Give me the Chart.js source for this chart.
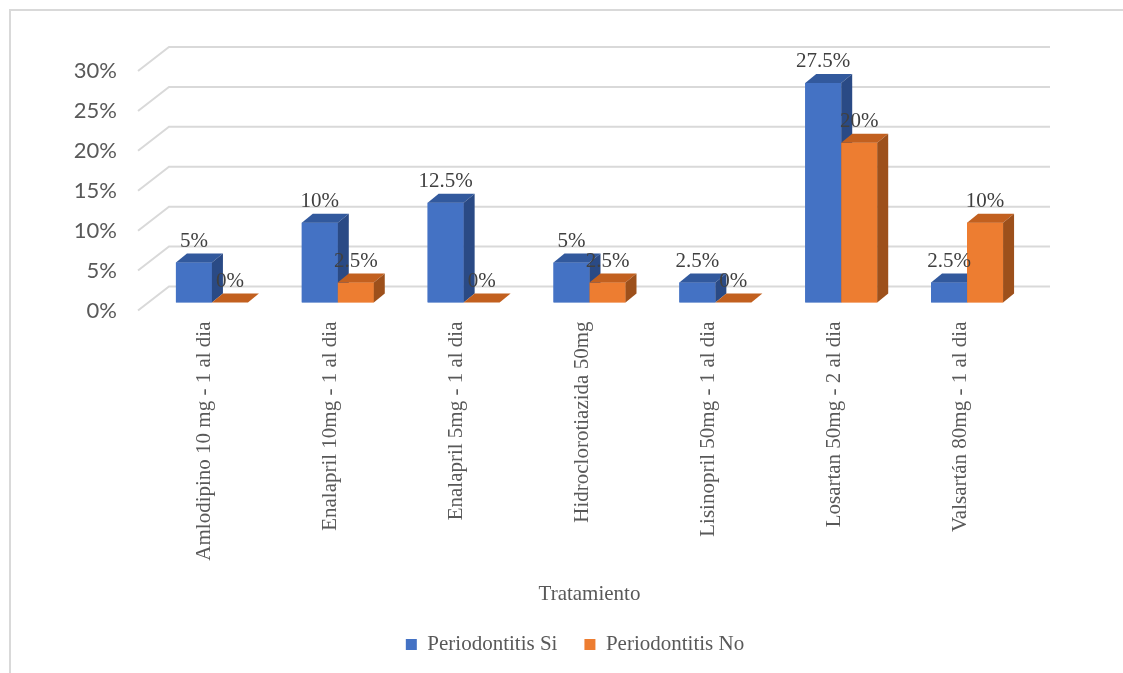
<!DOCTYPE html>
<html lang="es">
<head>
<meta charset="utf-8">
<title>Periodontitis por tratamiento</title>
<script src="https://cdn.jsdelivr.net/npm/chart.js@4.4.1/dist/chart.umd.min.js"></script>
<style>
  html, body { margin: 0; padding: 0; background: #fff; overflow: hidden; }
  #wrap { position: relative; width: 1123px; height: 673px; }
  #frame {
    position: absolute; left: 9px; top: 9px; width: 1200px; height: 700px;
    border-top: 2px solid #d9d9d9; border-left: 2px solid #d9d9d9;
    pointer-events: none;
  }
  canvas { position: absolute; left: 0; top: 0; }
</style>
</head>
<body>
<div id="wrap">
  <canvas id="chart" width="1123" height="673"></canvas>
  <div id="frame"></div>
</div>
<script>
// Datos
const tratamientos = [
    'Amlodipino 10 mg - 1 al dia',
    'Enalapril 10mg - 1 al dia',
    'Enalapril 5mg - 1 al dia',
    'Hidroclorotiazida 50mg',
    'Lisinopril 50mg - 1 al dia',
    'Losartan 50mg - 2 al dia',
    'Valsartán 80mg - 1 al dia'
];
const periodontitisSi = [5, 10, 12.5, 5, 2.5, 27.5, 2.5];
const periodontitisNo = [0, 2.5, 0, 2.5, 0, 20, 10];
const yTicks = [0, 5, 10, 15, 20, 25, 30];

// Colores de cada cara (frente, arriba, lado)
const caras = [
    { front: '#4472C4', top: '#32599d', side: '#2a4a85' },
    { front: '#ED7D31', top: '#c2601f', side: '#9d501b' }
];

// Profundidad de las barras y del fondo (en px)
const BAR_DX = 11, BAR_DY = -9;
const WALL_DX = 20, WALL_DY = -16;
const FLOOR_DX = -11, FLOOR_DY = 8;

function formatPct(v) {
    return v + '%';
}

// Pared del fondo con las lineas de la cuadricula
const paredPlugin = {
    id: 'pared3d',
    afterLayout(chart) {
        // la leyenda va centrada un poco a la derecha
        if (chart.legend) {
            chart.legend.left += 120;
        }
    },
    beforeDatasetsDraw(chart) {
        const { ctx, chartArea, scales } = chart;
        ctx.save();
        ctx.strokeStyle = '#d9d9d9';
        ctx.lineWidth = 2;
        yTicks.forEach(v => {
            const y = scales.y.getPixelForValue(v);
            ctx.beginPath();
            ctx.moveTo(chartArea.left + FLOOR_DX, y + FLOOR_DY);
            ctx.lineTo(chartArea.left + WALL_DX, y + WALL_DY);
            ctx.lineTo(chartArea.right + WALL_DX, y + WALL_DY);
            ctx.stroke();
        });
        ctx.restore();
    }
};

// Barras en 3D: frente, tapa y costado, y luego las etiquetas
const barras3dPlugin = {
    id: 'barras3d',
    afterDatasetsDraw(chart) {
        const ctx = chart.ctx;
        const metas = chart.data.datasets.map((d, i) => chart.getDatasetMeta(i));

        ctx.save();
        for (let i = 0; i < tratamientos.length; i++) {
            metas.forEach((meta, d) => {
                const bar = meta.data[i];
                const { x, y, base, width } = bar.getProps(['x', 'y', 'base', 'width'], true);
                const x0 = x - width / 2, x1 = x + width / 2;
                const c = caras[d];

                ctx.fillStyle = c.front;
                ctx.fillRect(x0, y, width, base - y);

                ctx.fillStyle = c.top;
                ctx.beginPath();
                ctx.moveTo(x0, y);
                ctx.lineTo(x0 + BAR_DX, y + BAR_DY);
                ctx.lineTo(x1 + BAR_DX, y + BAR_DY);
                ctx.lineTo(x1, y);
                ctx.closePath();
                ctx.fill();

                ctx.fillStyle = c.side;
                ctx.beginPath();
                ctx.moveTo(x1, y);
                ctx.lineTo(x1 + BAR_DX, y + BAR_DY);
                ctx.lineTo(x1 + BAR_DX, base + BAR_DY);
                ctx.lineTo(x1, base);
                ctx.closePath();
                ctx.fill();
            });
        }

        ctx.font = '21px "Liberation Serif", "Times New Roman", serif';
        ctx.fillStyle = '#404040';
        ctx.textAlign = 'center';
        ctx.textBaseline = 'alphabetic';
        metas.forEach((meta, d) => {
            const valores = chart.data.datasets[d].data;
            meta.data.forEach((bar, i) => {
                const { x, y } = bar.getProps(['x', 'y'], true);
                ctx.fillText(formatPct(valores[i]), x, y - 16);
            });
        });
        ctx.restore();
    }
};

const serif = { family: '"Liberation Serif", "Times New Roman", serif', size: 21 };

new Chart(document.getElementById('chart'), {
    type: 'bar',
    data: {
        labels: tratamientos,
        datasets: [
            { label: 'Periodontitis Si', data: periodontitisSi, backgroundColor: caras[0].front },
            { label: 'Periodontitis No', data: periodontitisNo, backgroundColor: caras[1].front }
        ]
    },
    options: {
        responsive: false,
        animation: false,
        events: [],
        categoryPercentage: 0.572,
        barPercentage: 1,
        layout: { padding: { left: 0, right: 93, top: 63, bottom: 8 } },
        plugins: {
            tooltip: { enabled: false },
            legend: {
                position: 'bottom',
                labels: {
                    font: serif,
                    color: '#595959',
                    boxWidth: 11,
                    boxHeight: 11,
                    padding: 27
                }
            }
        },
        scales: {
            x: {
                grid: { display: false, drawTicks: false },
                border: { display: false },
                ticks: {
                    font: serif,
                    color: '#595959',
                    minRotation: 90,
                    maxRotation: 90,
                    autoSkip: false,
                    padding: 19,
                    labelOffset: -7
                },
                title: {
                    display: true,
                    text: 'Tratamiento',
                    font: serif,
                    color: '#595959',
                    padding: { top: 0, bottom: 0 }
                },
                afterFit(scale) { scale.height = 304.5; }
            },
            y: {
                min: 0,
                max: 30,
                grid: { display: false, drawTicks: false },
                border: { display: false },
                afterBuildTicks(scale) {
                    scale.ticks = yTicks.map(v => ({ value: v }));
                },
                ticks: {
                    font: { family: 'Lato, "Open Sans", sans-serif', size: 22 },
                    color: '#595959',
                    padding: 32,
                    labelOffset: 8,
                    callback: v => formatPct(v)
                },
                afterFit(scale) { scale.width = 149; }
            }
        }
    },
    plugins: [paredPlugin, barras3dPlugin]
});
</script>
</body>
</html>
